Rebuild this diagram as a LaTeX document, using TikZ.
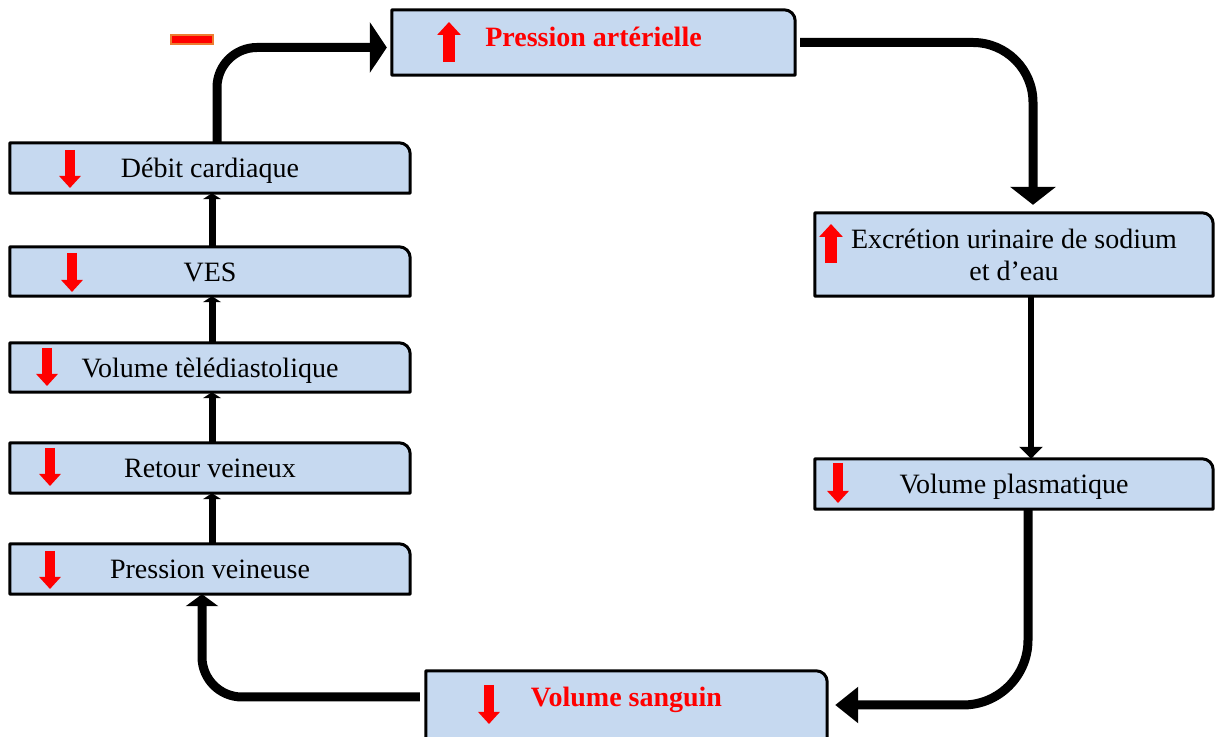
\documentclass[tikz,border=0pt]{standalone}
\usepackage{fontspec}
\setmainfont{Liberation Serif}
\usetikzlibrary{arrows.meta,backgrounds}
\definecolor{boxblue}{RGB}{198,217,240}
\definecolor{minusorange}{RGB}{237,125,49}
\newcommand\cornerbox[1]{\filldraw[boxshape] (#1.south west) -- (#1.north west) -- ([xshift=-11pt]#1.north east) arc[start angle=90,end angle=0,radius=11pt] -- (#1.south east) -- cycle;}
\begin{document}
\begin{tikzpicture}[x=1pt,y=1pt,
  boxshape/.style={fill=boxblue, draw=black, line width=3pt, line join=round},
  box/.style={minimum width=400pt, minimum height=50pt, inner sep=0pt, font=\fontsize{28}{32}\selectfont},
  oneline/.style={text height=19.5pt, text depth=0pt},
  redtext/.style={text=red, font=\fontsize{28}{32}\selectfont\bfseries},
  conn/.style={draw=black, line width=9pt},
  smallconn/.style={draw=black, line width=7pt, -{Triangle[width=18pt,length=6pt]}},
  midconn/.style={draw=black, line width=6pt, -{Triangle[width=23pt,length=12pt]}},
  downarrow/.style={draw=red, line width=10pt, -{Triangle[width=21pt,length=12pt]}},
  uparrow/.style={draw=red, line width=12pt, -{Triangle[width=23pt,length=13pt]}}]
\useasboundingbox (0,0) rectangle (1215,736);
\clip (0,0) rectangle (1215,736);

% boxes
\node[box, redtext, minimum width=403pt, minimum height=65pt, text height=9pt, text depth=0pt] (PA) at (593.5,693.5) {Pression artérielle};
\node[box, oneline] (DC) at (210,568) {Débit cardiaque};
\node[box, oneline, minimum height=49pt] (VES) at (210,464.5) {VES};
\node[box, oneline, minimum height=49pt] (VT) at (210,368.5) {Volume tèlédiastolique};
\node[box, oneline] (RV) at (210,268) {Retour veineux};
\node[box, oneline] (PV) at (210,167) {Pression veineuse};
\node[box, minimum width=398pt, minimum height=83pt, align=center] (EX) at (1014,481.5) {Excrétion urinaire de sodium\\et d’eau};
\node[box, oneline, minimum width=398pt] (VP) at (1014,252) {Volume plasmatique};
\node[box, redtext, minimum width=401pt, minimum height=74pt, text height=0pt, text depth=2pt] (VS) at (626.5,28) {Volume sanguin};

\begin{scope}[on background layer]
  \clip (0,0) rectangle (1215,736);
  \foreach \n in {PA,DC,VES,VT,RV,PV,EX,VP,VS} {\cornerbox{\n}}
\end{scope}

% main loop connectors
\draw[conn, rounded corners=40pt, -{Triangle[width=50pt,length=17pt]}, shorten >=5pt]
  ([xshift=7pt]DC.north) |- ([yshift=-5pt]PA.west);
\draw[conn, rounded corners=60pt, -{Triangle[width=45pt,length=18pt]}, shorten <=5pt, shorten >=8pt]
  (PA.east) -| ([xshift=19pt]EX.north);
\draw[midconn] ([xshift=17pt]EX.south) -- ([xshift=17pt]VP.north);
\draw[conn, rounded corners=65pt, -{Triangle[width=35pt,length=23pt]}, shorten >=8pt]
  ([xshift=14pt]VP.south) |- ([yshift=3pt]VS.east);
\draw[conn, rounded corners=40pt, -{Triangle[width=32pt,length=12pt]}, shorten <=6pt]
  ([yshift=11pt]VS.west) -| ([xshift=-8pt]PV.south);

% left column connectors
\draw[smallconn] ([xshift=2pt]PV.north) -- ([xshift=2pt]RV.south);
\draw[smallconn] ([xshift=2pt]RV.north) -- ([xshift=2pt]VT.south);
\draw[smallconn] ([xshift=2pt]VT.north) -- ([xshift=2pt]VES.south);
\draw[smallconn] ([xshift=2pt]VES.north) -- ([xshift=2pt]DC.south);

% red indicator arrows
\draw[uparrow] (449,674) -- (449,714);
\draw[downarrow] (70,586) -- (70,548);
\draw[downarrow] (72,483) -- (72,444);
\draw[downarrow] (47,388) -- (47,350);
\draw[downarrow] (50,288) -- (50,250);
\draw[downarrow] (50,185) -- (50,147);
\draw[uparrow] (831,473) -- (831,512);
\draw[downarrow] (838,273) -- (838,233);
\draw[downarrow] (489,51) -- (489,12);

% minus sign
\filldraw[fill=red, draw=minusorange, line width=2pt] (171,692) rectangle (213,701);
\end{tikzpicture}
\end{document}
